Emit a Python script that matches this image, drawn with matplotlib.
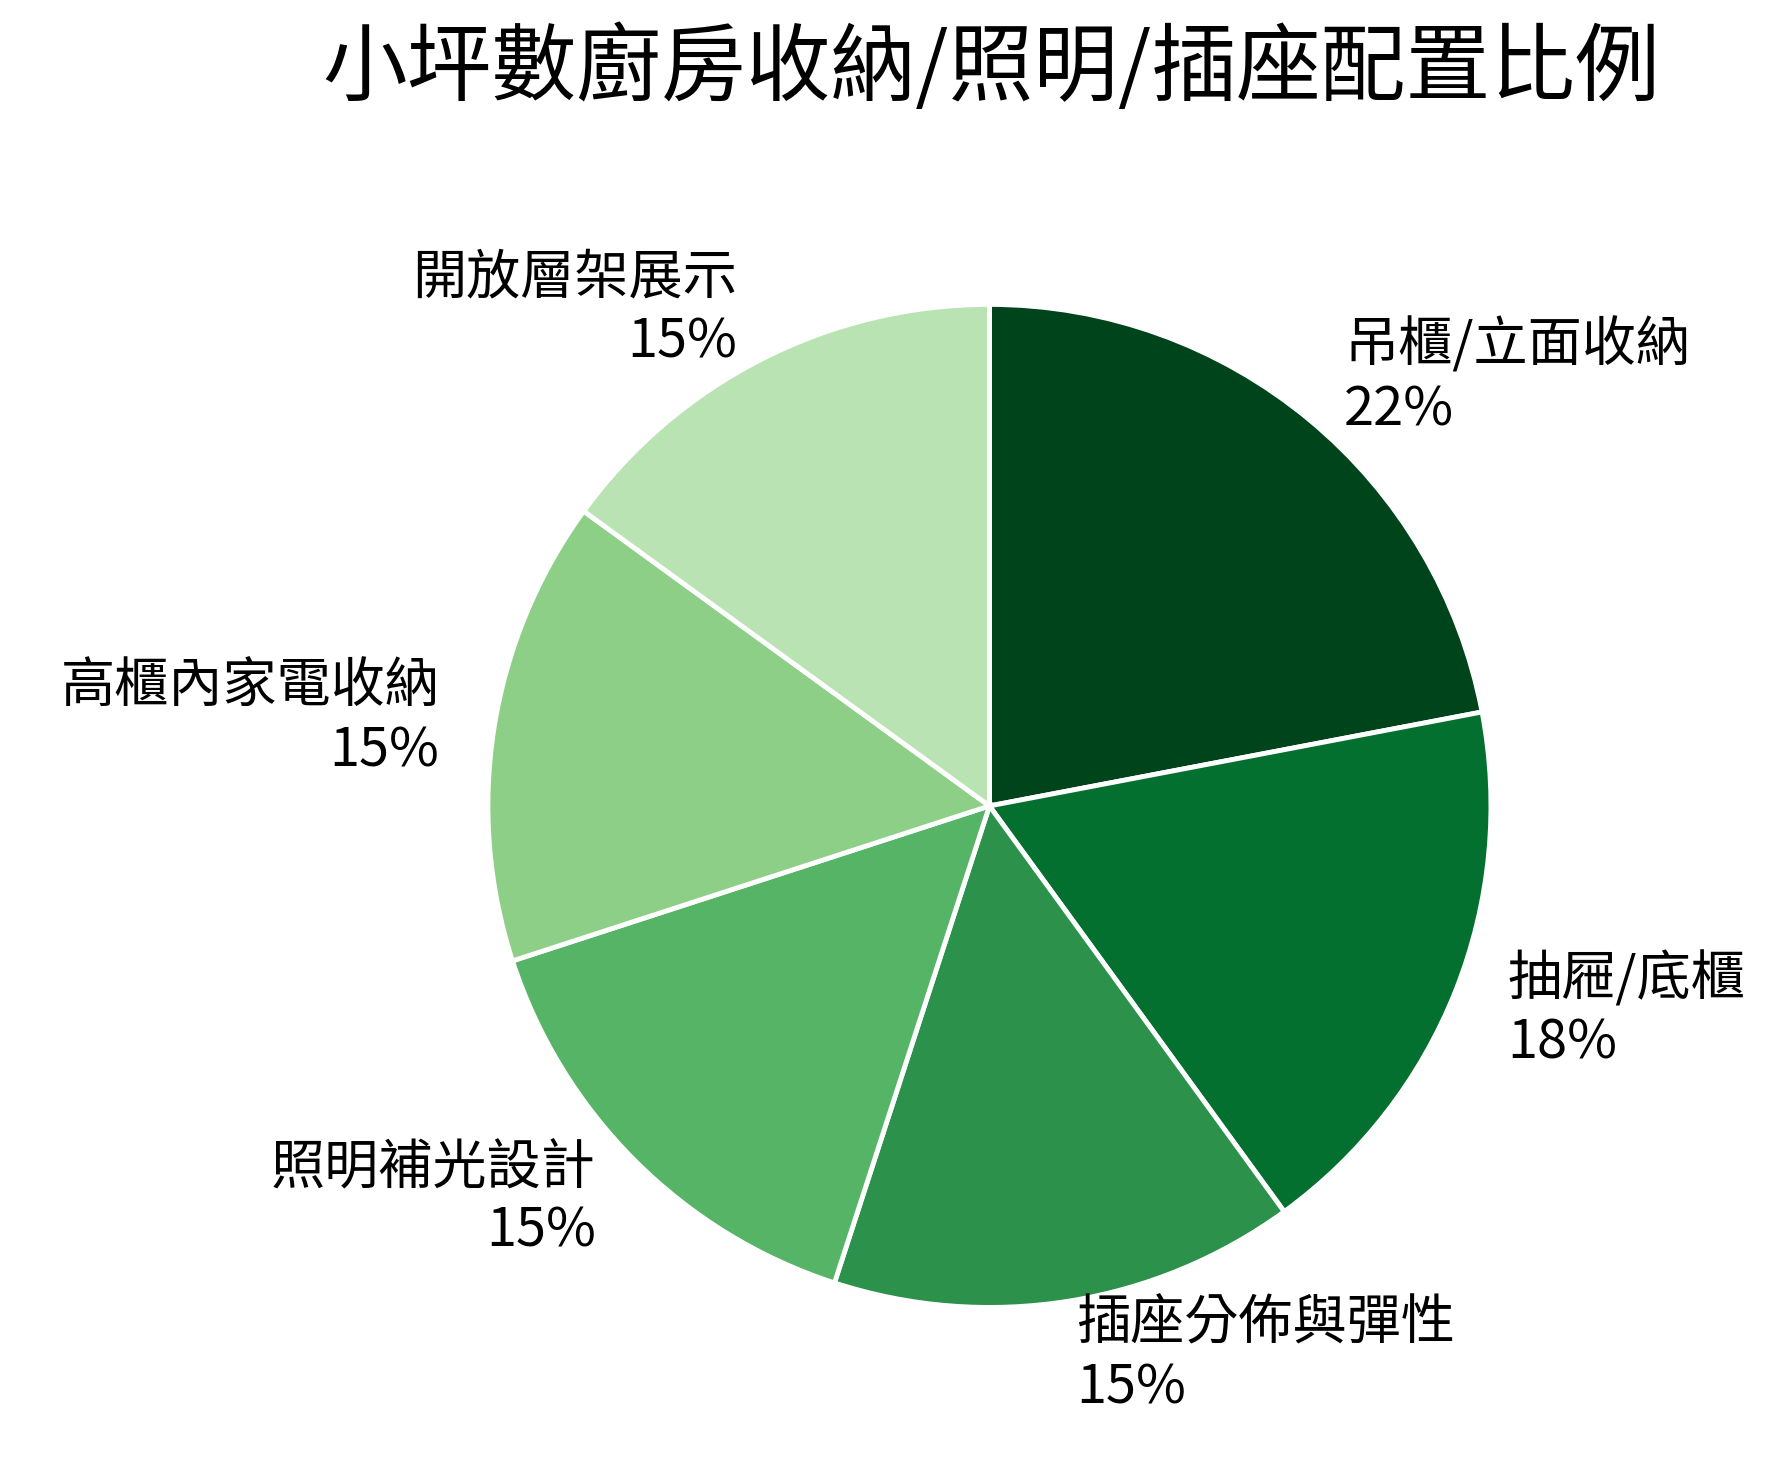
import matplotlib
matplotlib.use("Agg")
import matplotlib.pyplot as plt

plt.rcParams['font.family'] = ['Noto Sans CJK TC', 'DejaVu Sans']

categories = ['吊櫃/立面收納', '抽屜/底櫃', '插座分佈與彈性', '照明補光設計', '高櫃內家電收納', '開放層架展示']
values = [22, 18, 15, 15, 15, 15]
colors = ['#00441b', '#04702f', '#2c914a', '#55b466', '#8ecf87', '#b9e3b2']

labels = [f'{c}\n{v}%' for c, v in zip(categories, values)]

r = 0.351
fig = plt.figure(figsize=(17.86, 14.68), dpi=100)
ax = fig.add_axes([0.554 - r, 0.451 - r * 1786 / 1468, 2 * r, 2 * r * 1786 / 1468])
ax.pie(values, labels=labels, colors=colors, startangle=90, counterclock=False,
       labeldistance=1.11, wedgeprops={'edgecolor': 'white', 'linewidth': 3.5},
       textprops={'fontsize': 39})
ax.set_aspect('equal')
fig.text(0.555, 0.953, '小坪數廚房收納/照明/插座配置比例', ha='center', va='center', fontsize=61)
fig.savefig('out.png', dpi=100)
